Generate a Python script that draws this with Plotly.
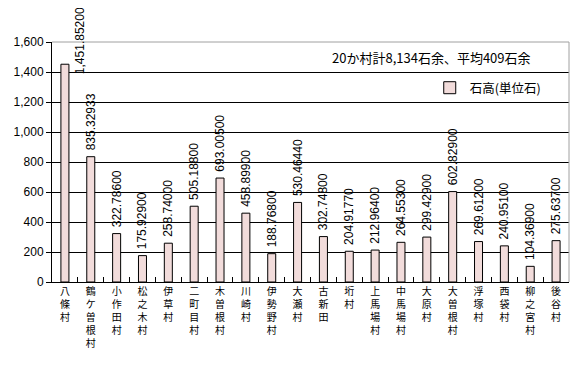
import plotly.graph_objects as go

villages = ["八條村", "鶴ケ曽根村", "小作田村", "松之木村", "伊草村", "二町目村", "木曽根村",
            "川崎村", "伊勢野村", "大瀬村", "古新田", "垳村", "上馬場村", "中馬場村",
            "大原村", "大曽根村", "浮塚村", "西袋村", "柳之宮村", "後谷村"]
kokudaka = [1451.852, 835.32933, 322.786, 175.929, 258.74, 505.188, 693.005,
            458.899, 188.768, 530.4644, 302.748, 204.9177, 212.964, 264.553,
            299.429, 602.829, 269.612, 240.951, 104.369, 275.637]
y_ticks = [0, 200, 400, 600, 800, 1000, 1200, 1400, 1600]
series_name = "石高(単位石)"
note = "20か村計8,134石余、平均409石余"

cat_labels = ["<br>".join(list(v)) for v in villages]

JP = "Noto Sans CJK JP"
NUM = "Liberation Sans"

# first label does not fit above its bar: drawn beside it as an annotation
text_pos = ["none"] + ["outside"] * (len(villages) - 1)

fig = go.Figure()
fig.add_trace(go.Bar(
    x=villages,
    y=kokudaka,
    name=series_name,
    marker=dict(color="#F2DCDB", line=dict(color="#000000", width=1)),
    texttemplate="\u00a0%{y:,.5f}",
    textposition=text_pos,
    textangle=-90,
    constraintext="none",
    cliponaxis=False,
    textfont=dict(family=NUM, size=12, color="#000000"),
    showlegend=True,
))

fig.update_layout(
    width=573, height=357,
    margin=dict(l=44, r=12, t=34, b=83, autoexpand=False),
    paper_bgcolor="white", plot_bgcolor="white",
    bargap=0.69,
    font=dict(family=JP, size=12, color="#000000"),
    legend=dict(x=0.955, xanchor="right", y=0.808, yanchor="middle",
                bgcolor="rgba(0,0,0,0)", font=dict(family=JP, size=12.5),
                itemwidth=30),
    xaxis=dict(
        tickmode="array", tickvals=villages, ticktext=cat_labels,
        tickangle=0, tickson="boundaries", ticks="inside", ticklen=5,
        tickcolor="#000000", showline=True, linecolor="#000000", linewidth=1,
        showgrid=False, tickfont=dict(family=JP, size=10), automargin=False,
    ),
    yaxis=dict(
        range=[0, 1600], tickvals=y_ticks, tickformat=",",
        ticks="outside", ticklen=5, tickcolor="#000000",
        showline=True, linecolor="#000000", linewidth=1,
        showgrid=True, gridcolor="#000000", gridwidth=1,
        zeroline=False, tickfont=dict(family=NUM, size=12), automargin=False,
    ),
    shapes=[
        dict(type="line", xref="paper", yref="paper", x0=0, x1=1, y0=1, y1=1,
             line=dict(color="#A0A0A0", width=1), layer="above"),
        dict(type="line", xref="paper", yref="paper", x0=1, x1=1, y0=0, y1=1,
             line=dict(color="#A0A0A0", width=1), layer="above"),
    ],
    annotations=[
        dict(text=note, xref="paper", yref="paper", x=0.93, y=0.9375,
             xanchor="right", yanchor="middle", showarrow=False,
             font=dict(family=JP, size=13)),
        dict(text=f"{kokudaka[0]:,.5f}", x=villages[0], y=kokudaka[0],
             xref="x", yref="y", textangle=-90, showarrow=False,
             xanchor="center", yanchor="middle", xshift=15, yshift=24,
             font=dict(family=NUM, size=12)),
    ],
)

fig.write_html("out.html")
